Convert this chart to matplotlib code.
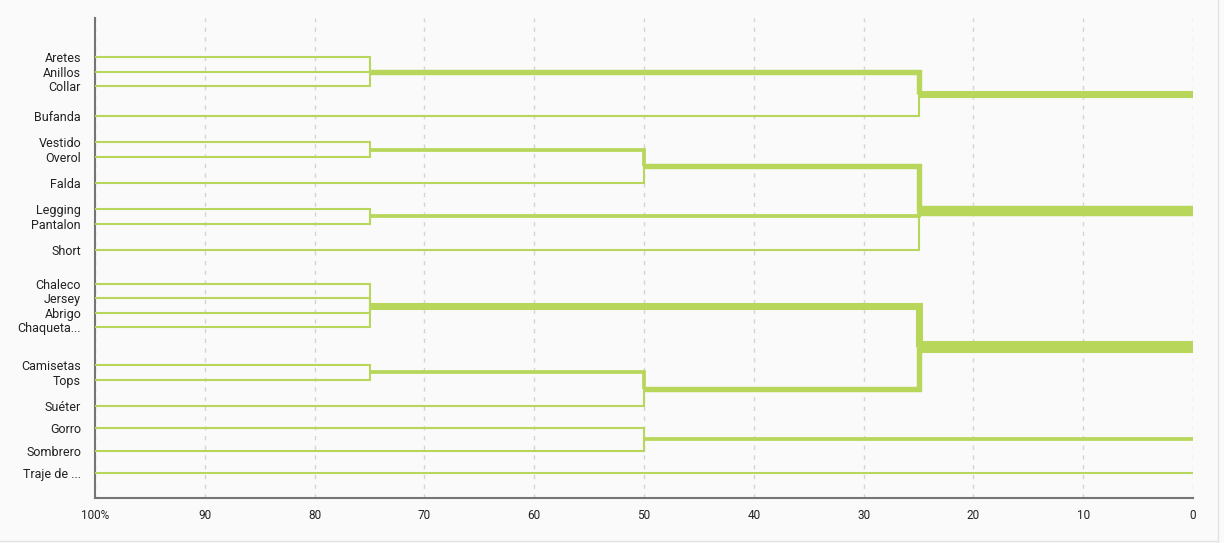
import matplotlib.pyplot as plt
from matplotlib.lines import Line2D

plt.rcParams['font.family'] = ['Roboto', 'DejaVu Sans']

# hojas del dendrograma (orden de arriba a abajo)
hojas = ["Aretes", "Anillos", "Collar", "Bufanda",
         "Vestido", "Overol", "Falda", "Legging", "Pantalon", "Short",
         "Chaleco", "Jersey", "Abrigo", "Chaqueta...",
         "Camisetas", "Tops", "Suéter", "Gorro", "Sombrero", "Traje de ..."]

# nodos internos: hijos (indices; >= 20 son nodos) y altura de union (%)
nodo_hijos = [
    [0, 1, 2],         # 20
    [20, 3],           # 21
    [4, 5],            # 22
    [22, 6],           # 23
    [7, 8],            # 24
    [23, 24, 9],       # 25
    [10, 11, 12, 13],  # 26
    [14, 15],          # 27
    [27, 16],          # 28
    [26, 28],          # 29
    [17, 18],          # 30
]
nodo_altura = [75, 25, 75, 50, 75, 25, 75, 75, 50, 25, 50]
raices = [21, 25, 29, 30, 19]

color = "#b7d65a"
n_hojas = len(hojas)

hijos_de = {n_hojas + k: h for k, h in enumerate(nodo_hijos)}
altura = {i: 100 for i in range(n_hojas)}
for k, h in enumerate(nodo_altura):
    altura[n_hojas + k] = h

cuenta = {i: 1 for i in range(n_hojas)}
for k, hijos in enumerate(nodo_hijos):
    cuenta[n_hojas + k] = sum(cuenta[h] for h in hijos)

padre = {}
for nid, hijos in hijos_de.items():
    for h in hijos:
        padre[h] = nid

# disposicion vertical: cada nodo recibe una banda proporcional a sus hojas
pos = {}
paso_hojas = 0.65

def colocar(nid, arriba, abajo):
    if nid < n_hojas:
        pos[nid] = (arriba + abajo) / 2
        return
    hijos = hijos_de[nid]
    if nid not in raices and all(h < n_hojas for h in hijos):
        centro = (arriba + abajo) / 2
        for j, h in enumerate(hijos):
            pos[h] = centro + (j - (len(hijos) - 1) / 2) * paso_hojas
    else:
        y = arriba
        for h in hijos:
            colocar(h, y, y + cuenta[h])
            y += cuenta[h]
    pos[nid] = sum(pos[h] for h in hijos) / len(hijos)

y = 0
for r in raices:
    colocar(r, y, y + cuenta[r])
    y += cuenta[r]

def grosor(n):
    return 0.3 + 1.2 * n

fig = plt.figure(figsize=(12.24, 5.43), dpi=100, facecolor="#fafafa")
ax = fig.add_axes([95 / 1224, 1 - 498 / 543, (1193 - 95) / 1224, (498 - 18) / 543])
ax.set_facecolor("#fafafa")

segmentos = []
for nid, p in padre.items():
    xs = [altura[nid], altura[p], altura[p]]
    ys = [pos[nid], pos[nid], pos[p]]
    segmentos.append((cuenta[nid], xs, ys))
for r in raices:
    segmentos.append((cuenta[r], [altura[r], 0], [pos[r], pos[r]]))

for n, xs, ys in sorted(segmentos, key=lambda s: s[0]):
    ax.plot(xs, ys, color=color, lw=grosor(n), solid_capstyle="butt",
            solid_joinstyle="miter", zorder=3)

ax.set_xlim(100, 0)
ax.set_ylim(n_hojas + 0.63, -0.9)
ax.set_xticks(range(100, -1, -10))
ax.set_xticklabels(["100%"] + [str(v) for v in range(90, -1, -10)])
ax.set_yticks([pos[i] for i in range(n_hojas)])
ax.set_yticklabels(hojas)
ax.tick_params(axis="both", length=0, colors="#222222")
ax.tick_params(axis="y", pad=10, labelsize=9)
ax.tick_params(axis="x", pad=8, labelsize=8.5)
ax.grid(axis="x", color="#d4d4d4", linestyle=(0, (3, 4)), lw=1, zorder=1)
ax.grid(axis="y", visible=False)
for lado in ["top", "right"]:
    ax.spines[lado].set_visible(False)
for lado in ["left", "bottom"]:
    ax.spines[lado].set_color("#757575")
    ax.spines[lado].set_linewidth(1.5)

# borde del contenedor
fig.add_artist(Line2D([1218 / 1224, 1218 / 1224], [2 / 543, 1], color="#e2e2e2", lw=1))
fig.add_artist(Line2D([0, 1218 / 1224], [2 / 543, 2 / 543], color="#e2e2e2", lw=1))

fig.savefig("out.png", dpi=100, facecolor=fig.get_facecolor())
